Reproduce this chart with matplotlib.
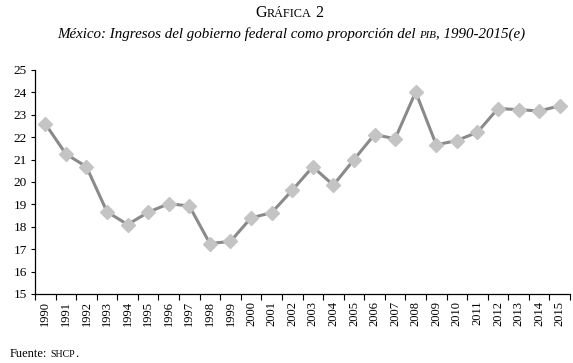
import matplotlib.pyplot as plt

years = [str(y) for y in range(1990, 2016)]
ingresos = [22.6, 21.25, 20.68, 18.67, 18.1, 18.65, 19.03, 18.93, 17.25, 17.35,
            18.4, 18.63, 19.63, 20.68, 19.86, 21.0, 22.12, 21.93, 24.02, 21.66,
            21.85, 22.22, 23.28, 23.23, 23.17, 23.4]
yticks = list(range(15, 26))

SERIF = ['Liberation Serif', 'DejaVu Serif']


def chained_text(fig, x, y, pieces, ha_center=True, **kw):
    # pieces: list of (text, size, gap_px); drawn one after another on one baseline
    arts = [fig.text(x, y, txt, fontsize=size, va='baseline', **kw)
            for txt, size, _ in pieces]
    fig.canvas.draw()
    r = fig.canvas.get_renderer()
    widths = [a.get_window_extent(r).width + g for a, (_, _, g) in zip(arts, pieces)]
    W = fig.bbox.width
    x0 = x * W - (sum(widths) / 2 if ha_center else 0)
    for a, w in zip(arts, widths):
        a.set_position((x0 / W, y))
        a.set_ha('left')
        x0 += w
    return arts


fig = plt.figure(figsize=(5.73, 3.63), dpi=100)
ax = fig.add_axes([35 / 573, 69 / 363, 535 / 573, 224 / 363])

pos = range(len(years))
ax.plot(pos, ingresos, color='#8a8a8a', lw=2.2, marker='D', markersize=7,
        markerfacecolor='#c4c4c4', markeredgecolor='#c4c4c4', zorder=3)

ax.set_ylim(15, 25)
ax.set_xlim(-0.5, len(years) - 0.5)
ax.set_yticks(yticks)
ax.set_yticklabels([str(v) for v in yticks], fontfamily=SERIF, fontsize=9.5)
ax.set_xticks([i - 0.5 for i in range(len(years) + 1)])
ax.set_xticklabels([])
ax.set_xticks(list(pos), minor=True)
ax.set_xticklabels(years, minor=True, rotation=90, fontfamily=SERIF, fontsize=9)
ax.tick_params(axis='x', which='major', direction='out', length=4, width=0.8)
ax.tick_params(axis='x', which='minor', length=0, pad=5)
ax.tick_params(axis='y', direction='out', length=3, width=0.8, pad=3)
for s in ['top', 'right']:
    ax.spines[s].set_visible(False)
for s in ['left', 'bottom']:
    ax.spines[s].set_linewidth(0.9)

chained_text(fig, 289.5 / 573, 1 - 17 / 363,
             [('G', 11.5, 0), ('RÁFICA', 8.8, 4), ('2', 11.5, 0)], family=SERIF)
chained_text(fig, 291.5 / 573, 1 - 38 / 363,
             [('México: Ingresos del gobierno federal como proporción del', 10.8, 3.5),
              ('PIB', 7.8, 0), (', 1990-2015(e)', 10.8, 0)], family=SERIF, style='italic')
chained_text(fig, 10 / 573, 1 - 357 / 363,
             [('Fuente:', 9, 3), ('SHCP', 7, 0), ('.', 9, 0)], ha_center=False, family=SERIF)

fig.savefig('out.png', dpi=100)
